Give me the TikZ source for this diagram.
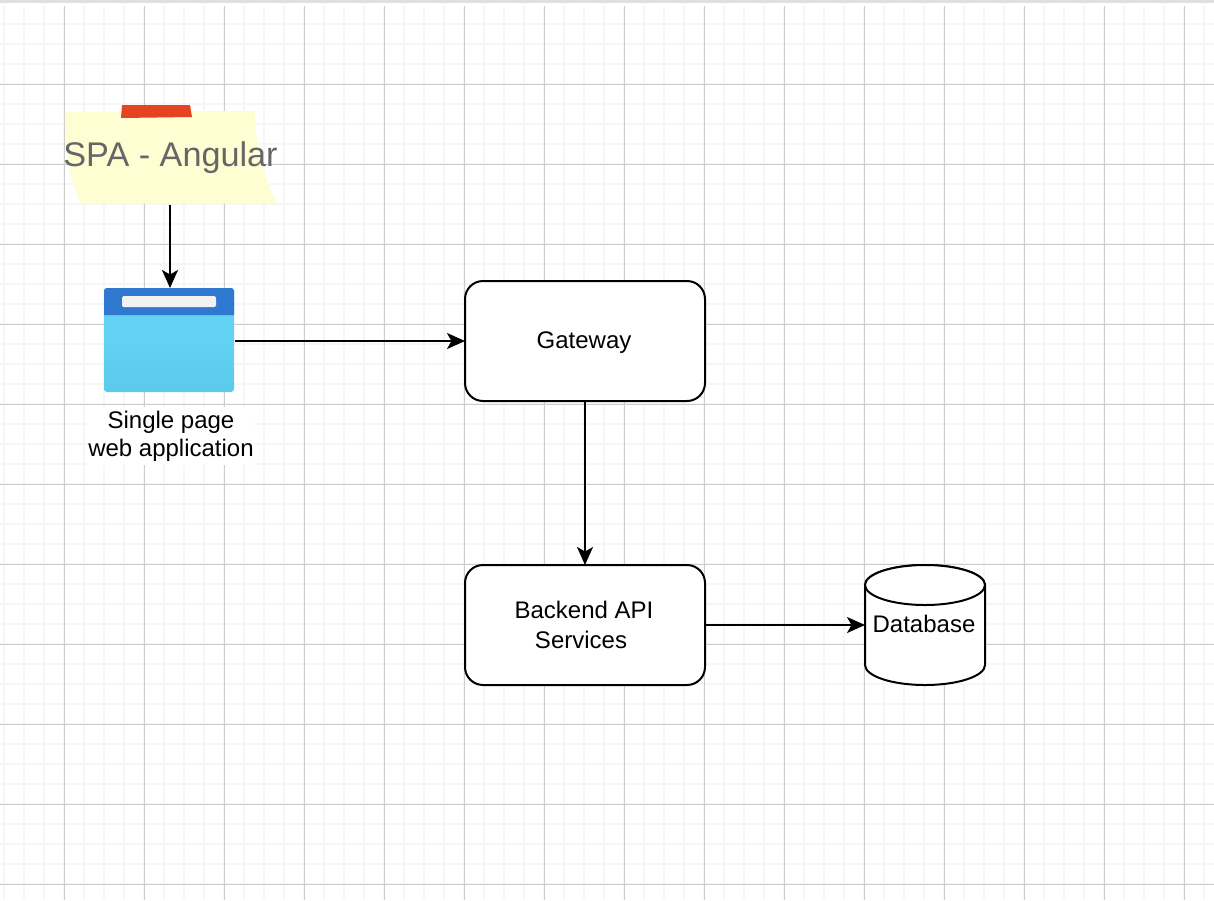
\documentclass[tikz,border=0pt]{standalone}
\usepackage{xcolor}
\usepackage{fontspec}
\setmainfont{Liberation Sans}
\usetikzlibrary{arrows.meta, positioning}
\definecolor{gridmajor}{HTML}{CCCCCC}
\definecolor{gridminor}{HTML}{F6F6F6}
\definecolor{notefill}{HTML}{FFFDD2}
\definecolor{tapered}{HTML}{E64322}
\definecolor{headblue}{HTML}{2F78D0}
\definecolor{bodyblue}{HTML}{63D1F2}
\definecolor{bodyblue2}{HTML}{5BC9EA}
\definecolor{barwhite}{HTML}{F2F2F2}
\definecolor{notetext}{HTML}{666666}
\begin{document}
\begin{tikzpicture}[
      x=1pt, y=-1pt,
      outer sep=0pt,
      box/.style={draw, line width=2pt, rounded corners=18pt, fill=white, align=center,
                  minimum width=240pt, minimum height=120pt, inner sep=0pt},
      txt/.style={align=center, inner sep=0pt, font=\fontsize{24}{30}\selectfont},
      lab/.style={align=center, fill=white, inner sep=0pt, minimum width=166pt, minimum height=58pt,
                  font=\fontsize{24}{28}\selectfont},
      link/.style={-{Stealth[length=18pt, width=16pt, inset=4.5pt]}, line width=2pt},
      node distance=164pt]
    \useasboundingbox (0,0) rectangle (1214,900);
    \fill[white] (0,0) rectangle (1214,900);
    \fill[gridmajor!60] (0,0) rectangle (1214,3);
    % grid
    \foreach \x in {4,24,...,1204} \draw[gridminor, line width=1.5pt] (\x,6) -- (\x,900);
    \foreach \y in {24,44,...,884} \draw[gridminor, line width=1.5pt] (0,\y) -- (1214,\y);
    \foreach \x in {64.5,144.5,...,1184.5} \draw[gridmajor, line width=1pt] (\x,6) -- (\x,900);
    \foreach \y in {84.5,164.5,...,884.5} \draw[gridmajor, line width=1pt] (0,\y) -- (1214,\y);
    % sticky note
    \fill[notefill] (65,112) -- (255,111) .. controls (255,150) and (262,170) .. (277,203.5)
      -- (81,203.5) .. controls (70,180) and (64,150) .. cycle;
    \fill[tapered] (122,105) -- (190,105) -- (192,117) -- (121,118) -- cycle;
    \node[text=notetext, inner sep=0pt, font=\fontsize{34.2}{40}\selectfont] (note) at (170.5,158) {SPA - Angular};
    \coordinate (noteout) at (170,205);
    % browser window
    \node[minimum width=130pt, minimum height=104pt, inner sep=0pt, rounded corners=3pt,
          top color=bodyblue, bottom color=bodyblue2, middle color=bodyblue] (browser) at (169,340) {};
    \fill[headblue] (104,315) [rounded corners=3pt] -- (104,288) -- (234,288) [sharp corners] -- (234,315) -- cycle;
    \fill[barwhite, rounded corners=1.5pt] (122,296) rectangle (216,307);
    \node[lab] (browserlab) at (171,436) {Single page\\web application};
    \coordinate (browserout) at (235,341);
    % services
    \node[box] (gateway) at (585,341) {};
    \node[txt] (gatewaytxt) at (584,343) {Gateway};
    \node[box, below=of gateway] (backend) {};
    \node[txt] (backendtxt) at (584,625) {Backend API\\Services\hspace*{6pt}};
    \node[minimum width=120pt, minimum height=120pt, inner sep=0pt, right=160pt of backend] (db) {};
    \draw[line width=2pt, fill=white] (865,585) arc[start angle=180, end angle=360, x radius=60pt, y radius=-20pt]
      -- (985,665) arc[start angle=0, end angle=180, x radius=60pt, y radius=-20pt] -- cycle;
    \draw[line width=2pt, fill=white] (925,585) ellipse[x radius=60pt, y radius=20pt];
    \node[txt] (dbtxt) at (924,624) {Database};
    % links
    \draw[link] (noteout) -- (browser.north -| noteout);
    \draw[link] (browserout) -- (gateway.west);
    \draw[link] (gateway) -- (backend);
    \draw[link] (backend) -- (db);
  \end{tikzpicture}
\end{document}
